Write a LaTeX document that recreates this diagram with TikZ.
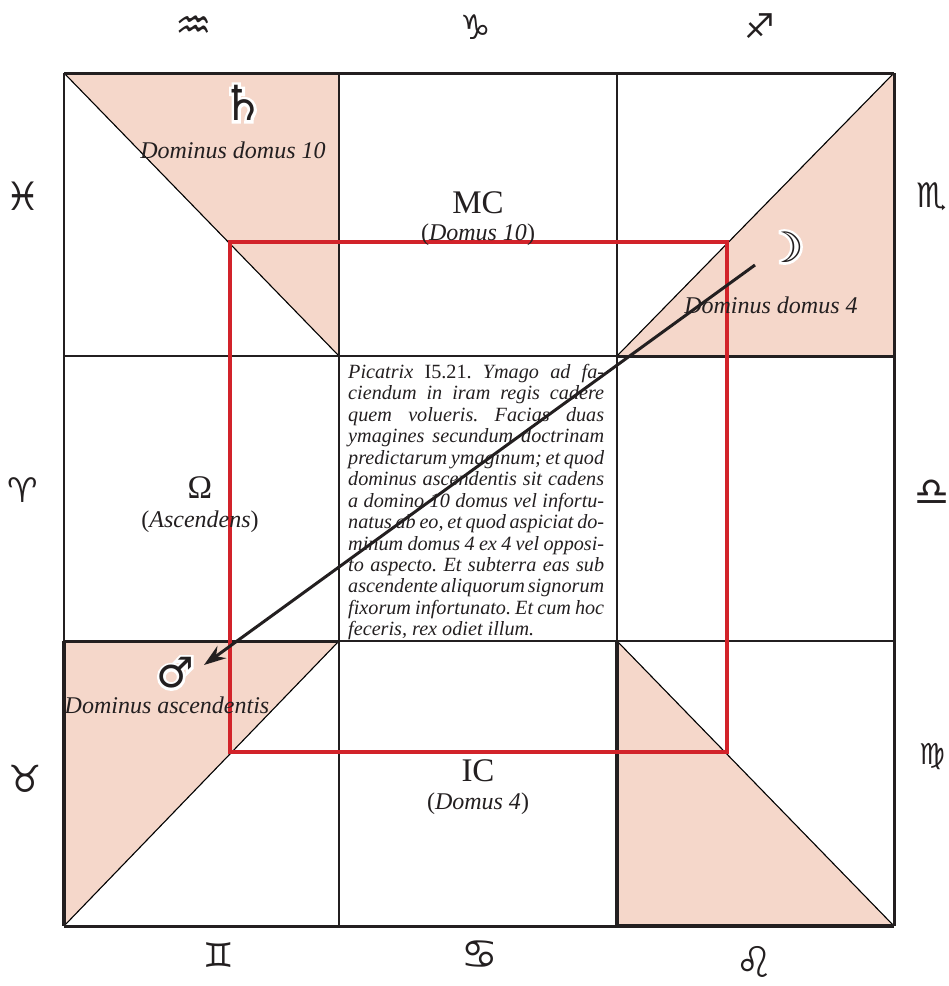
\documentclass[tikz,border=0pt]{standalone}
\usepackage{fontspec}
\usetikzlibrary{arrows.meta}
\setmainfont{Liberation Serif}
\newfontfamily\symf{DejaVu Sans}
\definecolor{ink}{HTML}{231F20}
\definecolor{peach}{HTML}{F5D7CA}
\definecolor{redline}{HTML}{D2232A}
\newcommand{\haloed}[1]{\makebox[0pt]{\special{pdf:code q 2 Tr 1 1 1 RG 1 1 1 rg 5 w}\textcolor{white}{#1}\special{pdf:code Q}}\makebox[0pt]{\textcolor{ink}{#1}}}
\newcommand{\fitline}[1]{\hbox to 256pt{\spaceskip=.25em plus 1em minus .17em\relax #1}}
\tikzset{
  thinl/.style={draw=ink,line width=2pt},
  medl/.style={draw=ink,line width=3pt},
  heavyl/.style={draw=ink,line width=4pt},
  diagl/.style={draw=black,line width=1.1pt},
  redl/.style={draw=redline,line width=4.6pt},
  sign/.style={text=ink,inner sep=0pt,font=\symf\fontsize{34}{34}\selectfont},
  planet/.style={text=ink,inner sep=0pt,font=\symf\fontsize{42}{42}\selectfont},
  lab/.style={text=ink,inner sep=0pt,font=\fontsize{24}{25}\selectfont\itshape},
  house/.style={text=ink,inner sep=0pt,font=\fontsize{33}{34}\selectfont},
  sub/.style={text=ink,inner sep=0pt,font=\fontsize{24}{25}\selectfont},
}
\begin{document}
\begin{tikzpicture}[x=1pt,y=-1pt]
\useasboundingbox (0,0) rectangle (949,986);
% grid points
\coordinate (a1) at (64,73);  \coordinate (a2) at (339,73);  \coordinate (a3) at (617,73);  \coordinate (a4) at (894,73);
\coordinate (b1) at (64,356); \coordinate (b2) at (339,356); \coordinate (b3) at (617,356); \coordinate (b4) at (894,356);
\coordinate (c1) at (64,641); \coordinate (c2) at (339,641); \coordinate (c3) at (617,641); \coordinate (c4) at (894,641);
\coordinate (d1) at (64,926); \coordinate (d2) at (339,926); \coordinate (d3) at (617,926); \coordinate (d4) at (894,926);
\coordinate (r1) at (230,242); \coordinate (r2) at (727,752);
\coordinate (arrS) at (755,265); \coordinate (arrE) at (204,665);
% shaded triangles
\fill[peach] (a1) -- (a2) -- (b2) -- cycle;
\fill[peach] (a4) -- (b4) -- (b3) -- cycle;
\fill[peach] (c1) -- (c2) -- (d1) -- cycle;
\fill[peach] (c3) -- (d3) -- (d4) -- cycle;
% diagonals
\draw[diagl] (a1) -- (b2);
\draw[diagl] (a4) -- (b3);
\draw[diagl] (c2) -- (d1);
\draw[diagl] (c3) -- (d4);
% grid
\draw[medl] (a1) -- (a4);
\draw[thinl] (a1) -- (c1);
\draw[heavyl] (c1) -- (d1);
\draw[medl] (d1) -- (d3);
\draw[heavyl] (d3) -- (d4);
\draw[medl] (a4) -- (d4);
\draw[thinl] (a2) -- (d2);
\draw[thinl] (a3) -- (c3);
\draw[heavyl] (c3) -- (d3);
\draw[thinl] (b1) -- (b3);
\draw[medl] (b3) -- (b4);
\draw[medl] (c1) -- (c2);
\draw[thinl] (c2) -- (c4);
% red square
\draw[redl] (r1) rectangle (r2);
% zodiac
\node[sign,scale=1.2] (aqu) at (194,28) {♒};
\node[sign] (cap) at (476,27) {♑};
\node[sign] (sag) at (760,26) {♐};
\node[sign,scale=1.15] (pis) at (23,196) {♓};
\node[sign] (sco) at (932,197) {♏};
\node[sign] (ari) at (23,490) {♈};
\node[sign,scale=1.15] (lib) at (932,493) {♎};
\node[sign,scale=1.1] (tau) at (25,779) {♉};
\node[sign,scale=.85] (vir) at (932,757) {♍};
\node[sign] (gem) at (219,955) {♊};
\node[sign,scale=1.2] (can) at (480,955) {♋};
\node[sign,scale=1.25] (leo) at (755,962) {♌};
% house labels
\node[house] (mc) at (478,203) {MC};
\node[sub] (mcs) at (478,235) {(\textit{Domus 10})};
\node[house] (ic) at (478,771) {IC};
\node[sub] (ics) at (478,804) {(\textit{Domus 4})};
\node[house] (asc) at (200,488) {Ω};
\node[sub] (ascs) at (200,522) {(\textit{Ascendens})};
% planets
\node[planet,scale=1.15] (sat) at (243,103) {\haloed{♄}};
\node[planet] (moo) at (785,247) {\haloed{☽}};
\node[planet] (mar) at (175,673) {\haloed{♂}};
\node[lab] (l10) at (233,150) {Dominus domus 10};
\node[lab] (l4) at (771,305) {Dominus domus 4};
\node[lab] (las) at (167,705) {Dominus ascendentis};
% central text
\node[text=ink,inner sep=0pt,anchor=north west,font=\fontsize{20.2}{21.45}\selectfont\itshape] (txt) at (348,364)
{\vbox{\frenchspacing\hsize=256pt
\fitline{Picatrix \textup{I5.21.} Ymago ad fa-}
\fitline{ciendum in iram regis cadere}
\fitline{quem volueris. Facias duas}
\fitline{ymagines secundum doctrinam}
\fitline{predictarum ymaginum; et quod}
\fitline{dominus ascendentis sit cadens}
\fitline{a domino 10 domus vel infortu-}
\fitline{natus ab eo, et quod aspiciat do-}
\fitline{minum domus 4 ex 4 vel opposi-}
\fitline{to aspecto. Et subterra eas sub}
\fitline{ascendente aliquorum signorum}
\fitline{fixorum infortunato. Et cum hoc}
\fitline{feceris, rex odiet illum.\hfill}
}};
% arrow
\draw[draw=ink,line width=3pt,-{Stealth[length=22pt,width=15pt]}] (arrS) -- (arrE);
\end{tikzpicture}
\end{document}
